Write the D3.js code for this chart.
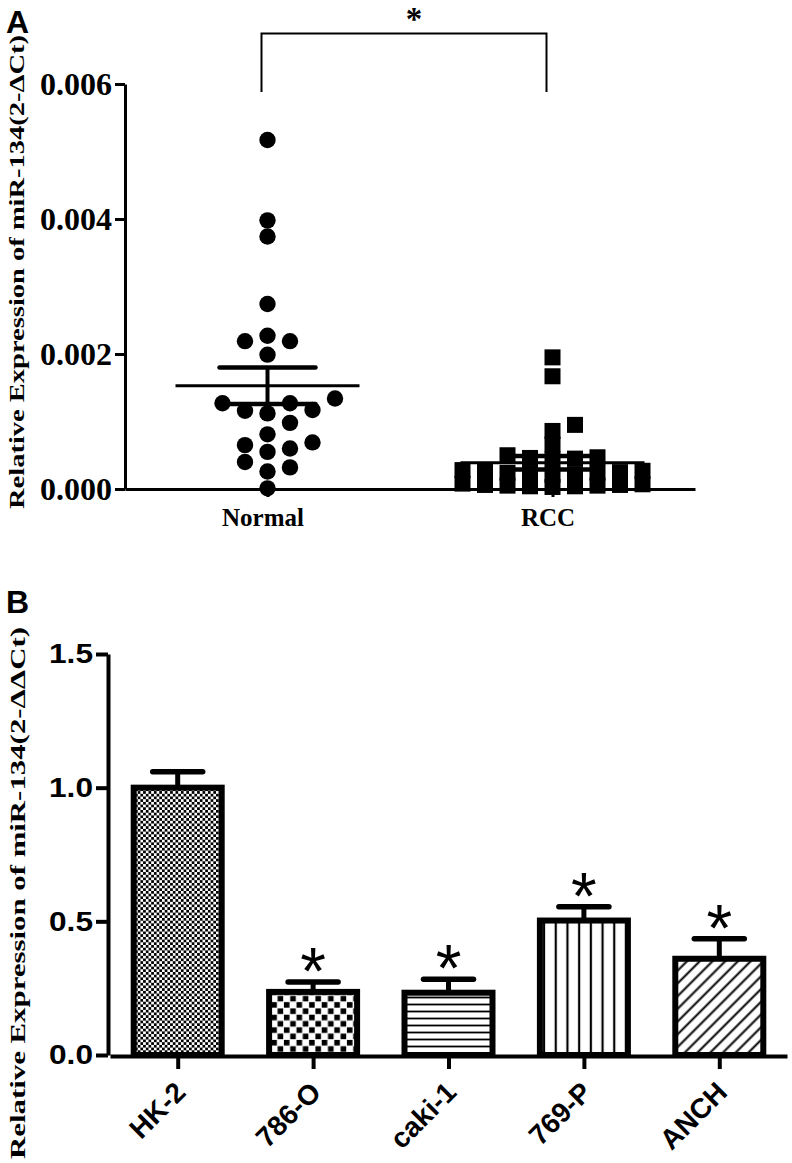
<!DOCTYPE html>
<html><head><meta charset="utf-8">
<script src="https://cdn.jsdelivr.net/npm/d3@7"></script>
<style>body{margin:0;background:#fff}svg{display:block}</style>
</head><body>
<svg id="chart" width="792" height="1163"></svg>
<script>
// ---------- Panel A data ----------
const groupsA = ["Normal", "RCC"];
const normalValues = [0.00517, 0.00398, 0.00374, 0.00274, 0.00219, 0.00219, 0.00227, 0.00199,
  0.00134, 0.00127, 0.00112, 0.00117, 0.00127, 0.00116, 0.00098, 0.00081,
  0.00065, 0.00055, 0.00060, 0.00069, 0.00032, 0.00040, 0.00026, 0.00001];
const rccValues = [0.00195, 0.00167, 0.00095, 0.00086, 0.00066,
  0.00050, 0.00046, 0.00047, 0.00044, 0.00045,
  0.00025, 0.00022, 0.00024, 0.00027, 0.00023, 0.00026, 0.00021, 0.00028, 0.00024,
  0.00005, 0.00006, 0.00004, 0.00007, 0.00003, 0.00005, 0.00006, 0.00008, 0.00004];
const meansA = [0.00153, 0.00039];
const semsA = [0.00027, 0.00010];
const yTicksA = [0, 0.002, 0.004, 0.006];
const titleA = "Relative Expression of miR-134(2-ΔCt)";

// ---------- Panel B data ----------
const cellLines = ["HK-2", "786-O", "caki-1", "769-P", "ANCH"];
const meansB = [1.0, 0.236, 0.233, 0.503, 0.36];
const semsB = [0.06, 0.037, 0.05, 0.052, 0.075];
const significantB = [false, true, true, true, true];
const yTicksB = [0, 0.5, 1.0, 1.5];
const titleB = "Relative Expression of miR-134(2-ΔΔCt)";

const svg = d3.select("#chart");
svg.append("rect").attr("width", 792).attr("height", 1163).attr("fill", "#fff");
const serif = "'Liberation Serif','Times New Roman',serif";
const sans = "'Liberation Sans',Arial,Helvetica,sans-serif";

// ================= Panel A =================
const yA = d3.scaleLinear().domain([0, 0.006]).range([489, 84]);
const xA = d3.scalePoint().domain(groupsA).range([125, 695]).padding(0.5);

svg.append("text").attr("x", 6).attr("y", 33).text("A")
  .attr("font-family", sans).attr("font-weight", "bold").attr("font-size", 32);

svg.append("text")
  .attr("transform", "translate(24,272) rotate(-90)")
  .attr("text-anchor", "middle")
  .attr("font-family", serif).attr("font-weight", "bold").attr("font-size", 21)
  .attr("textLength", 474).attr("lengthAdjust", "spacingAndGlyphs")
  .text(titleA);

const gyA = svg.append("g").attr("transform", "translate(125,0)")
  .call(d3.axisLeft(yA).tickValues(yTicksA).tickFormat(d3.format(".3f")).tickSize(10).tickSizeOuter(0));
gyA.select(".domain").attr("stroke", "#000").attr("stroke-width", 3);
gyA.selectAll(".tick line").attr("stroke", "#000").attr("stroke-width", 3);
gyA.selectAll(".tick text").attr("x", -13).attr("font-family", serif).attr("font-weight", "bold")
  .attr("font-size", 32).attr("fill", "#000");

const gxA = svg.append("g").attr("transform", "translate(0,489)")
  .call(d3.axisBottom(xA).tickSize(8).tickSizeOuter(0));
gxA.select(".domain").attr("stroke", "#000").attr("stroke-width", 3);
gxA.selectAll(".tick line").attr("stroke", "#000").attr("stroke-width", 3);
gxA.selectAll(".tick text").attr("y", 37).attr("dy", 0).attr("dx", -5)
  .attr("font-family", serif).attr("font-weight", "bold").attr("font-size", 25).attr("fill", "#000");

// beeswarm layout (computed from values)
function swarm(values, step, minGap) {
  const sorted = values.map((v, i) => ({ v, i })).sort((a, b) => a.v - b.v);
  const cols = new Map();
  const out = new Array(values.length);
  const order = [0];
  for (let k = 1; k < 12; k++) order.push(k, -k);
  sorted.forEach(d => {
    const y = yA(d.v);
    for (const c of order) {
      const arr = cols.get(c) || [];
      if (arr.every(yy => Math.abs(yy - y) >= minGap)) {
        arr.push(y); cols.set(c, arr);
        out[d.i] = { v: d.v, off: c * step };
        break;
      }
    }
  });
  return out;
}

const normalPts = swarm(normalValues, 22.5, 15.5);
const rccPts = swarm(rccValues, 22.5, 11);

svg.append("g").selectAll("circle").data(normalPts).join("circle")
  .attr("cx", d => xA("Normal") + d.off).attr("cy", d => yA(d.v)).attr("r", 8.2).attr("fill", "#000");
svg.append("g").selectAll("rect").data(rccPts).join("rect")
  .attr("x", d => xA("RCC") + d.off - 8).attr("y", d => yA(d.v) - 8)
  .attr("width", 16).attr("height", 16).attr("fill", "#000");

const statsA = groupsA.map((g, i) => ({ g, m: meansA[i], s: semsA[i] }));
const gs = svg.append("g").attr("stroke", "#000");
statsA.forEach(d => {
  const cx = xA(d.g);
  gs.append("line").attr("x1", cx - 92).attr("x2", cx + 92).attr("y1", yA(d.m)).attr("y2", yA(d.m)).attr("stroke-width", 3);
  gs.append("line").attr("x1", cx).attr("x2", cx).attr("y1", yA(d.m - d.s)).attr("y2", yA(d.m + d.s)).attr("stroke-width", 4);
  [d.m - d.s, d.m + d.s].forEach(v => {
    gs.append("line").attr("x1", cx - 48).attr("x2", cx + 48).attr("y1", yA(v)).attr("y2", yA(v))
      .attr("stroke-width", 4.5).attr("stroke-linecap", "round");
  });
});

const bx1 = xA("Normal") - 6, bx2 = xA("RCC") - 6;
svg.append("path")
  .attr("d", `M${bx1},92 V33.5 H${bx2} V92`)
  .attr("fill", "none").attr("stroke", "#000").attr("stroke-width", 2);
svg.append("text").attr("x", (bx1 + bx2) / 2 + 10).attr("y", 30).attr("text-anchor", "middle")
  .attr("font-family", serif).attr("font-weight", "bold").attr("font-size", 33).text("*");

// ================= Panel B =================
const yB = d3.scaleLinear().domain([0, 1.5]).range([1055, 654]);
const xB = d3.scalePoint().domain(cellLines).range([110, 787]).padding(0.5);

svg.append("text").attr("x", 6).attr("y", 613).text("B")
  .attr("font-family", sans).attr("font-weight", "bold").attr("font-size", 32);

svg.append("text")
  .attr("transform", "translate(25,893) rotate(-90)")
  .attr("text-anchor", "middle")
  .attr("font-family", serif).attr("font-weight", "bold").attr("font-size", 22)
  .attr("textLength", 532).attr("lengthAdjust", "spacingAndGlyphs")
  .text(titleB);

const defs = svg.append("defs");
function pat(id, w, h) {
  const p = defs.append("pattern").attr("id", id).attr("patternUnits", "userSpaceOnUse")
    .attr("width", w).attr("height", h);
  p.append("rect").attr("width", w).attr("height", h).attr("fill", "#fff");
  return p;
}
const p0 = pat("pHK", 5.4, 5.4);
p0.append("rect").attr("width", 2.7).attr("height", 2.7).attr("fill", "#000");
p0.append("rect").attr("x", 2.7).attr("y", 2.7).attr("width", 2.7).attr("height", 2.7).attr("fill", "#000");
const p1 = pat("p786", 12.6, 12.6);
p1.append("rect").attr("x", 0.4).attr("y", 0.4).attr("width", 5.6).attr("height", 5.6).attr("fill", "#000");
p1.append("rect").attr("x", 6.7).attr("y", 6.7).attr("width", 5.6).attr("height", 5.6).attr("fill", "#000");
const p2 = pat("pcaki", 10, 7);
p2.append("line").attr("x1", 0).attr("x2", 10).attr("y1", 3.5).attr("y2", 3.5).attr("stroke", "#000").attr("stroke-width", 1.8);
const p3 = pat("p769", 11.7, 10);
p3.append("line").attr("x1", 5.85).attr("x2", 5.85).attr("y1", 0).attr("y2", 10).attr("stroke", "#000").attr("stroke-width", 2.2);
const p4 = pat("pANCH", 9, 10).attr("patternTransform", "rotate(45)");
p4.append("line").attr("x1", 4.5).attr("x2", 4.5).attr("y1", 0).attr("y2", 10).attr("stroke", "#000").attr("stroke-width", 2);
const patIds = ["pHK", "p786", "pcaki", "p769", "pANCH"];

const barsB = cellLines.map((c, i) => ({ c, m: meansB[i], s: semsB[i], sig: significantB[i], pat: patIds[i] }));

const ge = svg.append("g").attr("stroke", "#000");
barsB.forEach(d => {
  const cx = xB(d.c);
  ge.append("line").attr("x1", cx).attr("x2", cx).attr("y1", yB(d.m)).attr("y2", yB(d.m + d.s)).attr("stroke-width", 5);
  ge.append("line").attr("x1", cx - 25).attr("x2", cx + 25).attr("y1", yB(d.m + d.s)).attr("y2", yB(d.m + d.s))
    .attr("stroke-width", 5.5).attr("stroke-linecap", "round");
});

svg.append("g").selectAll("rect").data(barsB).join("rect")
  .attr("x", d => xB(d.c) - 44).attr("width", 88)
  .attr("y", d => yB(d.m)).attr("height", d => yB(0) - yB(d.m))
  .attr("fill", d => `url(#${d.pat})`).attr("stroke", "#000").attr("stroke-width", 6);

svg.append("g").selectAll("text").data(barsB.filter(d => d.sig)).join("text")
  .attr("x", d => xB(d.c)).attr("y", d => yB(d.m + d.s) + 12)
  .attr("text-anchor", "middle").attr("font-family", sans).attr("font-size", 66).text("*");

const gyB = svg.append("g").attr("transform", "translate(108,0)")
  .call(d3.axisLeft(yB).tickValues(yTicksB).tickFormat(d3.format(".1f")).tickSize(12).tickSizeOuter(0));
gyB.select(".domain").attr("stroke", "#000").attr("stroke-width", 4);
gyB.selectAll(".tick line").attr("stroke", "#000").attr("stroke-width", 4);
gyB.selectAll(".tick text").attr("x", -15).attr("font-family", sans).attr("font-weight", "bold")
  .attr("font-size", 28).attr("textLength", 44).attr("lengthAdjust", "spacingAndGlyphs").attr("fill", "#000");

const gxB = svg.append("g").attr("transform", "translate(0,1056)")
  .call(d3.axisBottom(xB).tickSize(13).tickSizeOuter(0));
gxB.select(".domain").attr("stroke", "#000").attr("stroke-width", 4);
gxB.selectAll(".tick line").attr("stroke", "#000").attr("stroke-width", 4);
gxB.selectAll(".tick text")
  .attr("y", 0).attr("dy", 0)
  .attr("transform", "translate(9,38) rotate(-45)")
  .attr("text-anchor", "end")
  .attr("font-family", sans).attr("font-weight", "bold").attr("font-size", 28).attr("fill", "#000");
</script>
</body></html>
